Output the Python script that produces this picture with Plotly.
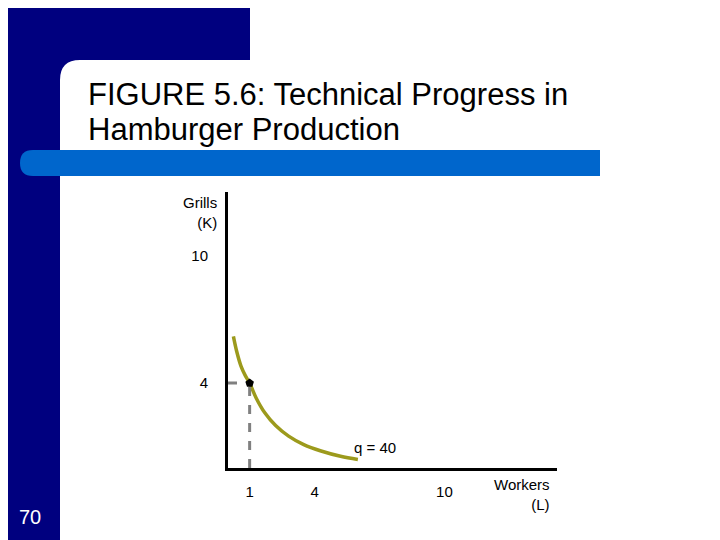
import plotly.graph_objects as go

# isoquant q = 40 (Workers L, Grills K)
curve_L = [0.25, 0.4, 0.6, 0.8, 1.0, 1.3, 1.7, 2.2, 2.8, 3.5, 4.3, 5.2, 6.0]
curve_K = [6.2, 5.5, 4.8, 4.35, 4.0, 3.3, 2.6, 2.0, 1.5, 1.1, 0.8, 0.55, 0.4]
point_L, point_K = 1, 4
x_ticks = [1, 4, 10]
y_ticks = [4, 10]

W, H = 720, 540
OFF = 8  # page offset
def px(x): return (x - OFF) / W
def py(y): return 1 - (y - OFF) / H

fig = go.Figure()
fig.add_trace(go.Scatter(x=curve_L, y=curve_K, mode="lines", line=dict(color="#9c9a1c", width=3.5, shape="spline"), hoverinfo="skip"))
fig.add_trace(go.Scatter(x=[point_L, point_L], y=[0, point_K], mode="lines", line=dict(color="#808080", width=3, dash="dash")))
fig.add_trace(go.Scatter(x=[0, point_L], y=[point_K, point_K], mode="lines", line=dict(color="#808080", width=3, dash="dash")))
fig.add_trace(go.Scatter(x=[point_L], y=[point_K], mode="markers", marker=dict(color="black", size=9, symbol="pentagon")))

navy = "#00007f"
bg = (f"M0,1 L{px(250)},1 L{px(250)},{py(60)} L{px(80)},{py(60)} "
      f"Q{px(60)},{py(60)} {px(60)},{py(80)} L{px(60)},0 L0,0 Z")
bar = (f"M{px(33)},{py(150)} L{px(600)},{py(150)} L{px(600)},{py(176)} L{px(33)},{py(176)} "
       f"Q{px(20)},{py(176)} {px(20)},{py(163)} Q{px(20)},{py(150)} {px(33)},{py(150)} Z")
shapes = [
    dict(type="path", path=bg, xref="paper", yref="paper", fillcolor=navy, line_width=0, layer="below"),
    dict(type="path", path=bar, xref="paper", yref="paper", fillcolor="#0066cc", line_width=0, layer="below"),
]

f = "Arial, Liberation Sans"
ann = [
    dict(x=px(86), y=py(95), text="FIGURE 5.6: Technical Progress in", xanchor="left", yanchor="middle",
         font=dict(size=31, color="black", family=f)),
    dict(x=px(86), y=py(129), text="Hamburger Production", xanchor="left", yanchor="middle",
         font=dict(size=31, color="black", family=f)),
    dict(x=px(219), y=py(212), text="Grills<br>(K)", xanchor="right", yanchor="middle", align="right",
         font=dict(size=15, color="black", family=f)),
    dict(x=px(552), y=py(494), text="Workers<br>(L)", xanchor="right", yanchor="middle", align="right",
         font=dict(size=15, color="black", family=f)),
    dict(x=6.8, y=0.45, xref="x", yref="y", text="q = 40", xanchor="center", yanchor="bottom", showarrow=False,
         font=dict(size=15, color="black", family=f)),
    dict(x=px(30), y=py(517), text="70", xanchor="center", yanchor="middle", font=dict(size=20, color="white", family=f)),
]
for a in ann:
    a.setdefault("xref", "paper"); a.setdefault("yref", "paper"); a.setdefault("showarrow", False)

fig.update_layout(
    width=W, height=H, margin=dict(l=0, r=0, t=0, b=0), showlegend=False,
    paper_bgcolor="white", plot_bgcolor="white", shapes=shapes, annotations=ann,
    xaxis=dict(domain=[px(228), px(557)], range=[0, 15.2], tickvals=x_ticks, showgrid=False, zeroline=False,
               showline=True, linecolor="black", linewidth=3, ticks="", ticklabelstandoff=8,
               tickfont=dict(size=15, color="black", family=f)),
    yaxis=dict(domain=[py(468), py(192)], range=[0, 13], tickvals=y_ticks, showgrid=False, zeroline=False,
               showline=True, linecolor="black", linewidth=3, ticks="", ticklabelstandoff=14,
               tickfont=dict(size=15, color="black", family=f)),
)
fig.write_html("out.html")
